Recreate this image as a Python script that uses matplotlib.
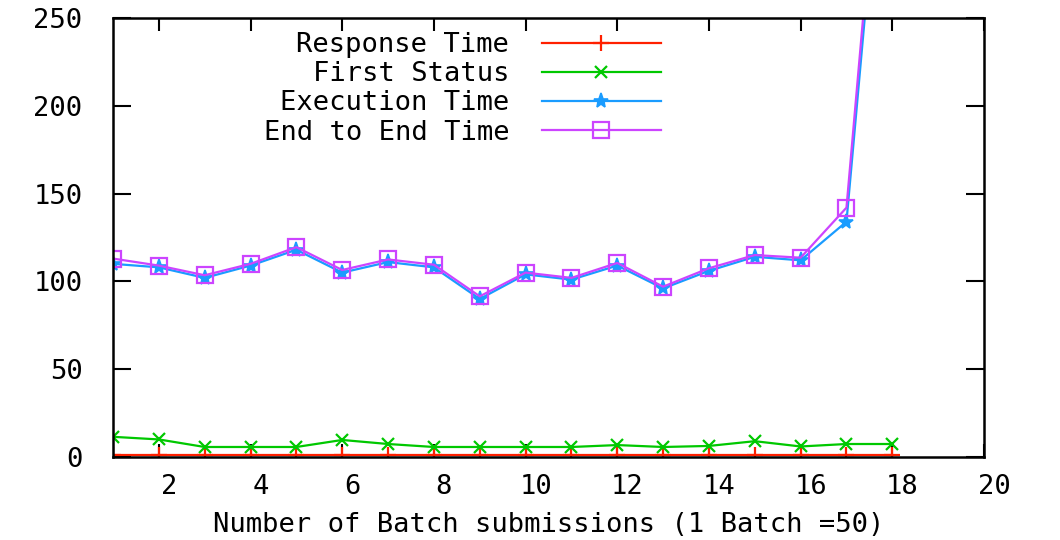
import numpy as np
import matplotlib
matplotlib.use("Agg")
import matplotlib.pyplot as plt
from matplotlib.transforms import ScaledTranslation

# batch index (1 batch = 50 jobs)
batches = np.arange(1, 19)

response_time = [1, 1, 1, 1, 1, 1, 1, 1, 1, 1, 1, 1, 1, 1, 1, 1, 1, 1]
first_status = [11.5, 10, 5.7, 5.7, 5.7, 9.7, 7.4, 5.7, 5.7, 5.7,
                5.7, 6.8, 5.7, 6.3, 9, 6, 7.4, 7.4]
execution_time = [110, 108, 102, 109, 118, 105, 111, 108, 90, 104,
                  101, 109, 96, 106, 114, 112, 134, 425]
end_to_end = [113, 109, 103.5, 110, 119.5, 106.5, 112.5, 109.5, 91.5, 105,
              102, 110.5, 97, 107.5, 115, 113.5, 142, 440]

plt.rcParams['font.family'] = ['DejaVu Sans Mono']
fs = 19.5

fig = plt.figure(figsize=(10.6, 5.4), dpi=100)
ax = fig.add_axes([113/1060, 1 - 457/540, (984-113)/1060, (457-18)/540])

ax.plot(batches, response_time, color='#ff2000', lw=1.6, marker='+', ms=11, mew=1.6,
        label='Response Time')
ax.plot(batches, first_status, color='#00c800', lw=1.6, marker='x', ms=9, mew=1.6,
        label='First Status')
ax.plot(batches, execution_time, color='#1a9cff', lw=1.6, marker='*', ms=11, mew=1.2,
        label='Execution Time')
ax.plot(batches, end_to_end, color='#cc44ff', lw=1.6, marker='s', ms=11, mew=1.6,
        fillstyle='none', label='End to End Time')

ax.set_xlim(1, 20)
ax.set_ylim(0, 250)
ax.set_xticks(np.arange(2, 21, 2))
ax.set_yticks(np.arange(0, 251, 50))

for s in ax.spines.values():
    s.set_linewidth(1.8)
ax.tick_params(axis='both', direction='in', top=True, right=True, width=1.5,
               labelsize=fs, colors='black')
ax.tick_params(axis='y', length=13, pad=22)
ax.tick_params(axis='x', length=9.5, pad=12)

off = ScaledTranslation(10/100, 0, fig.dpi_scale_trans)
for lab in ax.get_xticklabels():
    lab.set_transform(lab.get_transform() + off)

ax.set_xlabel('Number of Batch submissions (1 Batch =50)', fontsize=fs, labelpad=9)

ax.legend(loc='upper right', bbox_to_anchor=(661/1060, 1 - 32/540),
          bbox_transform=fig.transFigure, frameon=False, markerfirst=False,
          fontsize=fs, handlelength=4.4, handletextpad=1.2, labelspacing=0.12,
          borderpad=0, borderaxespad=0, numpoints=1)

fig.savefig('out.png', dpi=100)
